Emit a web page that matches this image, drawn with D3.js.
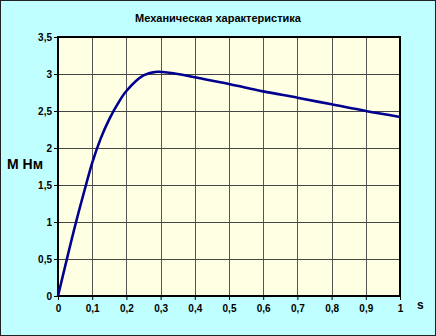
<!DOCTYPE html>
<html>
<head>
<meta charset="utf-8">
<script src="https://cdn.jsdelivr.net/npm/d3@7"></script>
<style>
  body { margin: 0; background: #fff; }
  svg { display: block; font-family: "Liberation Sans", Arial, sans-serif; }
</style>
</head>
<body>
<div id="chart"></div>
<script>
// slip values and torque
const slip = [0, 0.05, 0.08, 0.1, 0.125, 0.15, 0.175, 0.2, 0.25, 0.29, 0.35, 0.4, 0.5, 0.6, 0.7, 0.8, 0.9, 1];
const torque = [0, 0.95, 1.47, 1.8, 2.13, 2.39, 2.6, 2.77, 2.98, 3.03, 3.0, 2.955, 2.865, 2.765, 2.68, 2.59, 2.5, 2.42];
const xTicks = [0, 0.1, 0.2, 0.3, 0.4, 0.5, 0.6, 0.7, 0.8, 0.9, 1];
const yTicks = [0, 0.5, 1, 1.5, 2, 2.5, 3, 3.5];

const W = 436, H = 336;
const plot = { left: 58, top: 37, right: 400, bottom: 296 };

const svg = d3.select('#chart').append('svg').attr('width', W).attr('height', H);

// outer background
svg.append('rect').attr('x', 0.5).attr('y', 0.5).attr('width', W - 1).attr('height', H - 1)
  .attr('fill', '#C0FFFF').attr('stroke', '#222').attr('stroke-width', 1);

const x = d3.scaleLinear().domain([0, 1]).range([plot.left, plot.right]);
const y = d3.scaleLinear().domain([0, 3.5]).range([plot.bottom, plot.top]);

// plot area
svg.append('rect').attr('x', plot.left).attr('y', plot.top)
  .attr('width', plot.right - plot.left).attr('height', plot.bottom - plot.top)
  .attr('fill', '#FFFFE3');

// grid
svg.append('g').selectAll('line').data(xTicks.slice(1, -1)).enter().append('line')
  .attr('x1', d => Math.round(x(d)) + 0.5).attr('x2', d => Math.round(x(d)) + 0.5)
  .attr('y1', plot.top).attr('y2', plot.bottom)
  .attr('stroke', '#555').attr('stroke-width', 1);
svg.append('g').selectAll('line').data(yTicks.slice(1, -1)).enter().append('line')
  .attr('y1', d => Math.round(y(d)) + 0.5).attr('y2', d => Math.round(y(d)) + 0.5)
  .attr('x1', plot.left).attr('x2', plot.right)
  .attr('stroke', '#444').attr('stroke-width', 1);

// axes
const fmt = d => String(d).replace('.', ',');
const xAxis = svg.append('g').attr('transform', `translate(0,${plot.bottom})`)
  .call(d3.axisBottom(x).tickValues(xTicks).tickFormat(fmt).tickSize(4));
const yAxis = svg.append('g').attr('transform', `translate(${plot.left},0)`)
  .call(d3.axisLeft(y).tickValues(yTicks).tickFormat(fmt).tickSize(4));
[xAxis, yAxis].forEach(a => {
  a.select('.domain').remove();
  a.selectAll('.tick line').attr('stroke', '#000');
  a.selectAll('text').attr('fill', '#000').style('font-size', '10px').style('font-weight', 'bold')
    .style('font-family', '"Liberation Sans", Arial, sans-serif');
});
xAxis.selectAll('text').attr('dy', '0.95em').attr('y', 6);
yAxis.selectAll('text').attr('x', -6);

// plot border
svg.append('rect').attr('x', plot.left).attr('y', plot.top)
  .attr('width', plot.right - plot.left).attr('height', plot.bottom - plot.top)
  .attr('fill', 'none').attr('stroke', '#000').attr('stroke-width', 2);

// curve
const line = d3.line().x((d, i) => x(slip[i])).y(d => y(d)).curve(d3.curveCatmullRom.alpha(0.5));
svg.append('path').datum(torque).attr('d', line)
  .attr('fill', 'none').attr('stroke', '#000090').attr('stroke-width', 2.6);

// titles
svg.append('text').attr('x', 218).attr('y', 22).attr('text-anchor', 'middle')
  .style('font-size', '11px').style('font-weight', 'bold').attr('fill', '#000')
  .text('Механическая характеристика');
svg.append('text').attr('x', 7).attr('y', 169)
  .style('font-size', '14px').style('font-weight', 'bold').attr('fill', '#000')
  .text('М Нм');
svg.append('text').attr('x', 417).attr('y', 309)
  .style('font-size', '12px').style('font-weight', 'bold').attr('fill', '#000')
  .text('s');
</script>
</body>
</html>
